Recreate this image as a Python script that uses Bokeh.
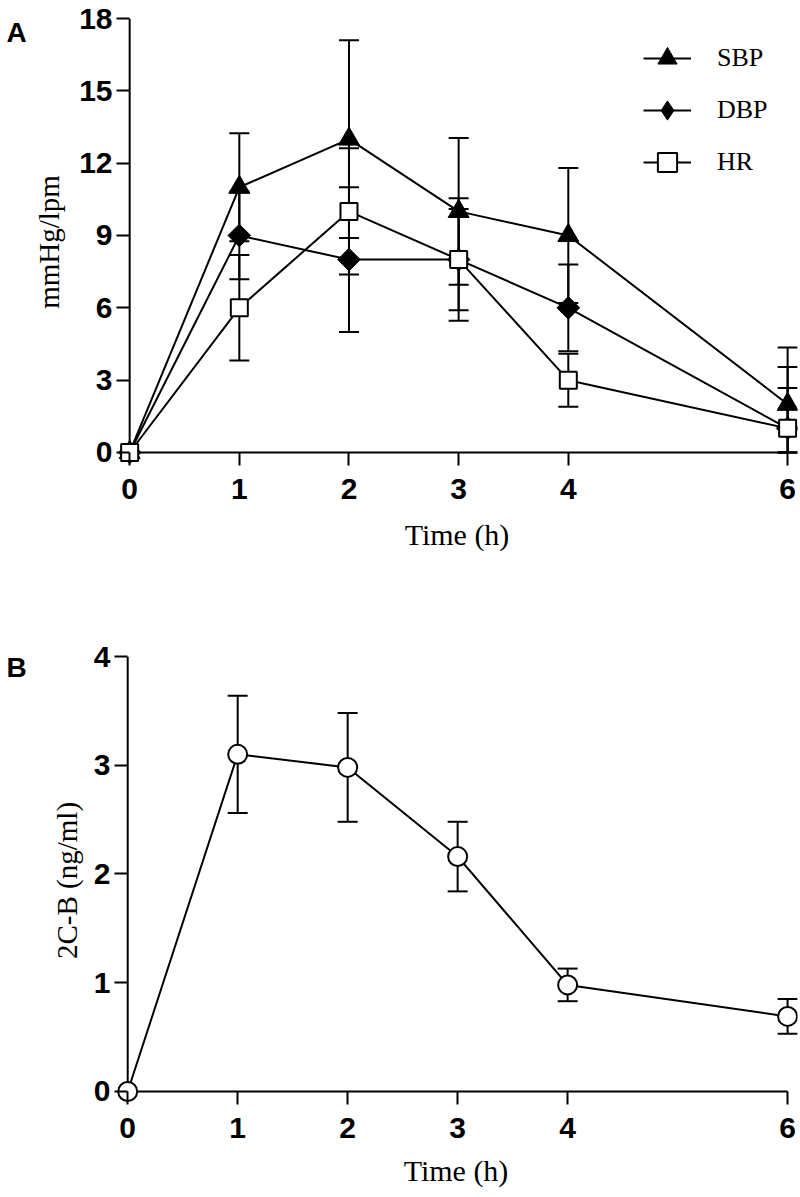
import math
from bokeh.plotting import figure
from bokeh.layouts import column, row
from bokeh.models import (ColumnDataSource, Whisker, TeeHead, FixedTicker, Range1d,
                          Legend, LegendItem, Label)
from bokeh.embed import file_html
from bokeh.resources import INLINE

# ---------------- data ----------------
times = [0, 1, 2, 3, 4, 6]
x_ticks = [0, 1, 2, 3, 4, 6]

sbp_mean = [0, 11, 13, 10, 9, 2]
sbp_sd = [0, 2.24, 4.1, 3.04, 2.8, 2.35]
dbp_mean = [0, 9, 8, 8, 6, 1]
dbp_sd = [0, 1.82, 3.0, 2.54, 1.8, 2.55]
hr_mean = [0, 6, 10, 8, 3, 1]
hr_sd = [0, 2.19, 2.62, 2.1, 1.1, 1.67]
top_y_ticks = [0, 3, 6, 9, 12, 15, 18]
series_names = ["SBP", "DBP", "HR"]

cb_mean = [0, 3.1, 2.98, 2.16, 0.98, 0.69]
cb_sd = [0, 0.54, 0.50, 0.32, 0.15, 0.16]
bot_y_ticks = [0, 1, 2, 3, 4]

SANS = "Liberation Sans"
SERIF = "Liberation Serif"

# layout (pixels)
TOP_H, TOP_BT, TOP_BB = 596, 18, 131
BOT_H, BOT_BT, BOT_BB = 601, 60, 93


def make_fig(height, border_top, border_bottom, y_start, y_end):
    p = figure(width=768, height=height, output_backend="svg", toolbar_location=None,
               title=None,
               x_range=Range1d(-0.12, 6.09), y_range=Range1d(y_start, y_end),
               min_border_left=84, min_border_right=1,
               min_border_top=border_top, min_border_bottom=border_bottom)
    p.outline_line_color = None
    p.xgrid.visible = False
    p.ygrid.visible = False
    p.background_fill_color = "white"
    p.border_fill_color = "white"
    return p


def panel_letter(letter, height, border_top, border_bottom, offset_below_top):
    # the plots of a row share their frame's top and bottom edges
    f = figure(width=30, height=height, output_backend="svg", toolbar_location=None,
               title=None, x_axis_location=None, y_axis_location=None,
               x_range=Range1d(0, 1), y_range=Range1d(0, 1), min_border_left=0,
               min_border_right=0, min_border_top=border_top,
               min_border_bottom=border_bottom)
    f.outline_line_color = None
    f.grid.visible = False
    f.background_fill_color = "white"
    f.border_fill_color = "white"
    frame_h = height - border_top - border_bottom
    f.add_layout(Label(x=6, y=frame_h - offset_below_top, x_units="screen", y_units="screen",
                       text=letter, text_font=SANS, text_font_style="bold",
                       text_font_size="28px", text_color="black",
                       text_baseline="alphabetic", text_align="left"))
    return f


def style_axes(p, xt, yt, xlabel, ylabel, x_label_standoff, y_label_standoff):
    p.xaxis.ticker = FixedTicker(ticks=xt)
    p.yaxis.ticker = FixedTicker(ticks=yt)
    for ax in (p.xaxis[0], p.yaxis[0]):
        ax.axis_line_color = None
        ax.major_tick_in = 13
        ax.major_tick_out = 0
        ax.major_tick_line_width = 2
        ax.major_tick_line_color = "black"
        ax.minor_tick_line_color = None
        ax.major_label_text_font = SANS
        ax.major_label_text_font_style = "bold"
        ax.major_label_text_font_size = "30px"
        ax.major_label_text_color = "black"
        ax.axis_label_text_font = SERIF
        ax.axis_label_text_font_style = "normal"
        ax.axis_label_text_color = "black"
    p.xaxis.major_label_standoff = 13
    p.yaxis.major_label_standoff = 4
    p.xaxis.axis_label_standoff = x_label_standoff
    p.yaxis.axis_label_standoff = y_label_standoff
    p.xaxis.axis_label_text_font_size = "30px"
    p.yaxis.axis_label_text_font_size = "29px"
    p.xaxis.axis_label = xlabel
    p.yaxis.axis_label = ylabel
    # axis lines drawn through the data origin
    p.segment(x0=[xt[0]], y0=[0], x1=[xt[-1]], y1=[0], line_color="black", line_width=2)
    p.segment(x0=[0], y0=[yt[0]], x1=[0], y1=[yt[-1]], line_color="black", line_width=2)


def add_errors(p, mean, sd):
    xs = times[1:]
    up = [m + s for m, s in zip(mean[1:], sd[1:])]
    lo = [max(m - s, 0) for m, s in zip(mean[1:], sd[1:])]
    src = ColumnDataSource(dict(x=xs, upper=up, lower=lo))
    w = Whisker(base="x", upper="upper", lower="lower", source=src, dimension="height",
                line_color="black", line_width=2,
                upper_head=TeeHead(size=20, line_width=2, line_color="black"),
                lower_head=TeeHead(size=20, line_width=2, line_color="black"))
    p.add_layout(w)


# ---------------- panel A ----------------
p1 = make_fig(TOP_H, TOP_BT, TOP_BB, -0.54, 18)
style_axes(p1, x_ticks, top_y_ticks, "Time (h)", "mmHg/lpm", 16, 11)

for m, s in ((sbp_mean, sbp_sd), (dbp_mean, dbp_sd), (hr_mean, hr_sd)):
    add_errors(p1, m, s)

l_sbp = p1.line(times, sbp_mean, line_color="black", line_width=2)
l_dbp = p1.line(times, dbp_mean, line_color="black", line_width=2)
l_hr = p1.line(times, hr_mean, line_color="black", line_width=2)
m_sbp = p1.scatter(times, sbp_mean, marker="triangle", size=21, fill_color="black",
                   line_color="black", line_width=1)
# diamond key (hidden beneath the rotated squares; used by the legend, which
# does not rotate markers)
k_dbp = p1.scatter(times, dbp_mean, marker="diamond", size=18, fill_color="black",
                   line_color="black", line_width=1)
m_dbp = p1.scatter(times, dbp_mean, marker="square", angle=math.pi / 4, size=16,
                   fill_color="black", line_color="black", line_width=1)
m_hr = p1.scatter(times, hr_mean, marker="square", size=17, fill_color="white",
                  line_color="black", line_width=2)

legend = Legend(items=[LegendItem(label=series_names[0], renderers=[l_sbp, m_sbp]),
                       LegendItem(label=series_names[1], renderers=[l_dbp, k_dbp]),
                       LegendItem(label=series_names[2], renderers=[l_hr, m_hr])],
                location=(527, 278), orientation="vertical",
                glyph_width=48, glyph_height=50, spacing=2, label_standoff=26,
                padding=0, margin=0, border_line_color=None, background_fill_alpha=0,
                label_text_font=SERIF, label_text_font_size="26px", label_text_color="black")
p1.add_layout(legend, "center")

fa = panel_letter("A", TOP_H, TOP_BT, TOP_BB, 14)

# ---------------- panel B ----------------
p2 = make_fig(BOT_H, BOT_BT, BOT_BB, -0.12, 4)
style_axes(p2, x_ticks, bot_y_ticks, "Time (h)", "2C-B (ng/ml)", 13, 8)
add_errors(p2, cb_mean, cb_sd)
p2.line(times, cb_mean, line_color="black", line_width=2)
p2.scatter(times, cb_mean, marker="circle", size=19, fill_color="white",
           line_color="black", line_width=2)

fb = panel_letter("B", BOT_H, BOT_BT, BOT_BB, 11)

layout = column(row(fa, p1, spacing=0), row(fb, p2, spacing=0), spacing=0)
open("out.html", "w").write(file_html(layout, INLINE))
